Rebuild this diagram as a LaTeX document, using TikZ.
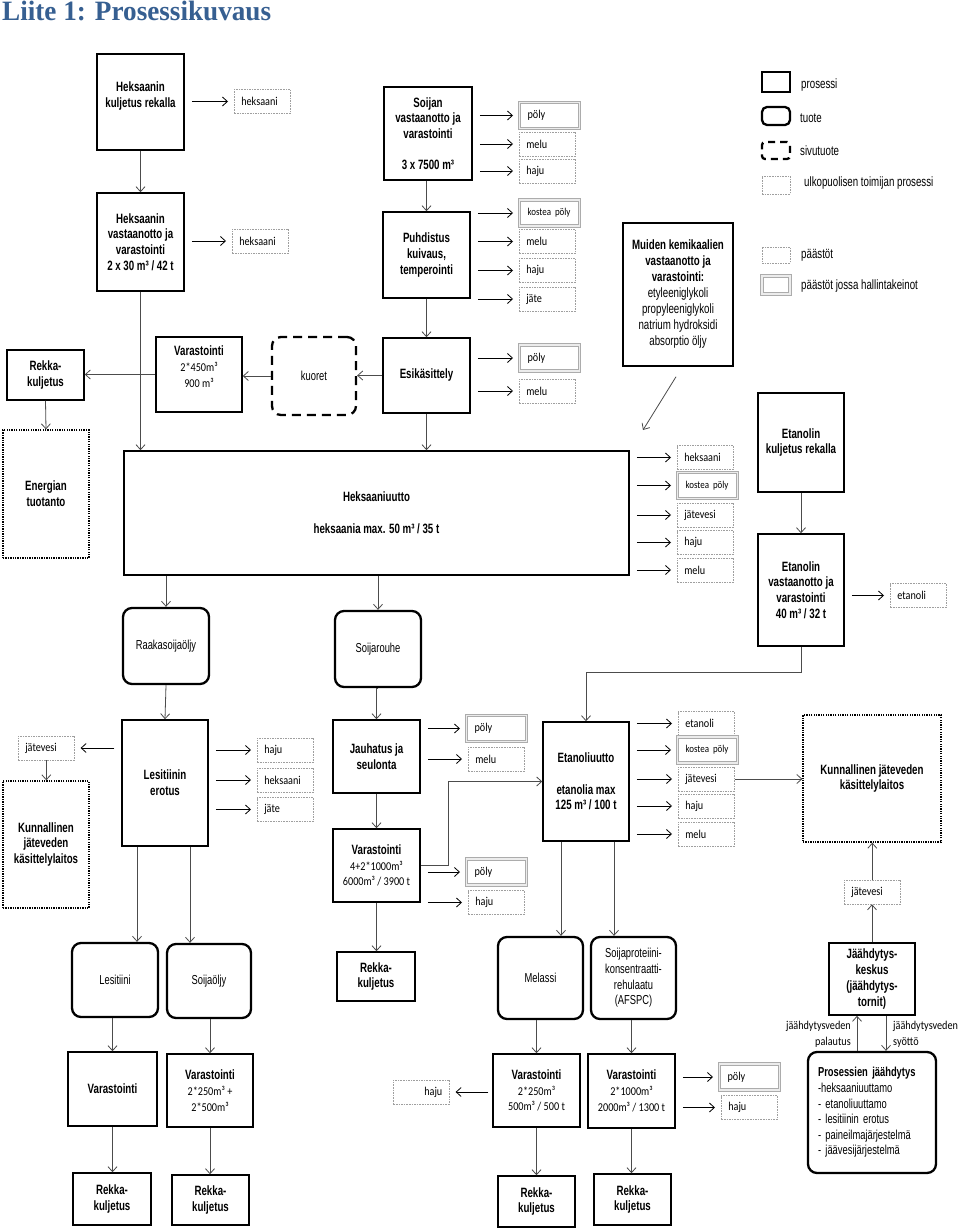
\documentclass[tikz,border=0pt]{standalone}
\usepackage{fontspec}
\setmainfont{Liberation Sans}
\newfontfamily\narf[FakeStretch=0.72]{Liberation Sans}
\newfontfamily\calf[FakeStretch=0.85]{Carlito}
\newfontfamily\titf[FakeStretch=0.97]{Liberation Serif}
\usetikzlibrary{arrows.meta,calc}
\definecolor{titleblue}{RGB}{54,95,145}
\definecolor{lnk}{gray}{0.3}
\newcommand\lblfont{\calf\fontsize{12}{13}\selectfont}
\newcommand\stf{\calf\mdseries\fontsize{12}{15.7}\selectfont}
\newcommand\kp{{\calf\fontsize{10.5}{11}\selectfont kostea pöly}}
\tikzset{
  bx/.style n args={4}{at={({(#1+#3)/2},{(#2+#4)/2})},minimum width={#3-#1},minimum height={#4-#2}},
  proc/.style={draw,line width=1.5pt,align=center,inner sep=1pt,font=\narf\bfseries\fontsize{13.5}{15.7}\selectfont},
  prod/.style={draw,line width=2.3pt,rounded corners=9pt,align=center,inner sep=1pt,font=\narf\fontsize{13}{15.7}\selectfont},
  byprod/.style={draw,line width=2.3pt,dash pattern=on 9pt off 6pt,rounded corners=9pt,align=center,inner sep=1pt,font=\narf\fontsize{13}{15.7}\selectfont},
  ext/.style={draw,line width=1.3pt,dash pattern=on 1.3pt off 1.1pt,align=center,inner sep=1pt,font=\narf\bfseries\fontsize{13.5}{15.7}\selectfont},
  eline/.style={draw=gray!75,line width=0.6pt,dash pattern=on 1.6pt off 1pt},
  cline/.style={draw=gray!65,line width=1.1pt,double=gray!15,double distance=1.1pt},
  emis/.style={eline,anchor=west,text width=42pt,inner xsep=7pt,inner ysep=0pt,minimum height=24pt,align=left,font=\lblfont},
  emisc/.style={cline,anchor=west,text width=44pt,inner xsep=8pt,inner ysep=0pt,minimum height=26pt,align=left,font=\lblfont},
  cnx/.style={draw=lnk,line width=0.8pt,-{Straight Barb[length=5pt,width=9pt]}},
  ea/.style={draw=black,line width=0.8pt,-{Straight Barb[length=5pt,width=9pt]},shorten <=7pt,shorten >=6pt},
  lgt/.style={anchor=west,inner sep=0pt,font=\narf\fontsize{13.5}{15.7}\selectfont},
}
\begin{document}
\begin{tikzpicture}[x=1pt,y=-1pt]
\fill[white] (0,0) rectangle (960,1230);
\useasboundingbox (0,0) rectangle (960,1230);
\node[anchor=base west,inner sep=0pt,text=titleblue,font=\titf\bfseries\fontsize{28}{32}\selectfont] (title) at (2,21) {Liite 1: Prosessikuvaus};
% ---------- processes ----------
\node[proc,bx={97}{54}{184}{150},text depth=15pt] (hk) {Heksaanin\\kuljetus rekalla};
\node[proc,bx={97}{193}{184}{291}] (hv) {Heksaanin\\vastaanotto ja\\varastointi\\2 x 30 m³ / 42 t};
\node[proc,bx={384}{87}{472}{180}] (sv) {Soijan\\vastaanotto ja\\varastointi\\[15pt]3 x 7500 m³};
\node[proc,bx={383}{212}{470}{298}] (pu) {Puhdistus\\kuivaus,\\temperointi};
\node[proc,bx={383}{338}{470}{413}] (es) {Esikäsittely};
\node[byprod,bx={272}{337}{356}{415}] (ku) {kuoret};
\node[proc,bx={156}{337}{242}{412},text depth=16pt] (v450) {Varastointi\\{\stf 2*450m³}\\{\stf 900 m³}};
\node[proc,bx={7}{350}{84}{400}] (rk1) {Rekka-\\kuljetus};
\node[ext,bx={3}{430}{89}{558}] (et) {Energian\\tuotanto};
\node[proc,bx={124}{451}{629}{575}] (hu) {Heksaaniuutto\\[16pt]heksaania max. 50 m³ / 35 t};
\node[proc,bx={623}{223}{733}{366},font=\narf\bfseries\fontsize{13.5}{16}\selectfont] (mk) {Muiden kemikaalien\\vastaanotto ja\\varastointi:\\{\mdseries etyleeniglykoli}\\{\mdseries propyleeniglykoli}\\{\mdseries natrium hydroksidi}\\{\mdseries absorptio öljy}};
\node[proc,bx={758}{393}{844}{492}] (ek) {Etanolin\\kuljetus rekalla};
\node[proc,bx={758}{534}{844}{646}] (ev) {Etanolin\\vastaanotto ja\\varastointi\\40 m³ / 32 t};
\node[prod,bx={123}{608}{209}{684}] (rs) {Raakasoijaöljy};
\node[prod,bx={335}{611}{421}{687}] (sr) {Soijarouhe};
\node[proc,bx={122}{720}{208}{846}] (le) {Lesitiinin\\erotus};
\node[ext,bx={3}{781}{89}{908}] (kl) {Kunnallinen\\jäteveden\\käsittelylaitos};
\node[proc,bx={333}{720}{420}{793}] (ja) {Jauhatus ja\\seulonta};
\node[proc,bx={333}{829}{420}{902}] (v42) {Varastointi\\{\stf 4+2*1000m³}\\{\stf 6000m³ / 3900 t}};
\node[proc,bx={543}{722}{629}{841}] (eu) {Etanoliuutto\\[16pt]etanolia max\\125 m³ / 100 t};
\node[ext,bx={803}{715}{941}{842}] (kr) {Kunnallinen jäteveden\\käsittelylaitos};
\node[proc,bx={337}{952}{415}{1001}] (rk2) {Rekka-\\kuljetus};
\node[prod,bx={72}{943}{158}{1017}] (lt) {Lesitiini};
\node[prod,bx={167}{944}{251}{1018}] (so) {Soijaöljy};
\node[prod,bx={498}{937}{583}{1019}] (me) {Melassi};
\node[prod,bx={591}{937}{676}{1019}] (sp) {Soijaproteiini-\\konsentraatti-\\rehulaatu\\(AFSPC)};
\node[proc,bx={829}{943}{915}{1015}] (jk) {Jäähdytys-\\keskus\\(jäähdytys-\\tornit)};
\node[prod,bx={808}{1052}{936}{1173},align=left,text width=108pt,inner xsep=10pt,font=\narf\fontsize{13}{15.6}\selectfont] (pj) {{\bfseries Prosessien jäähdytys}\\-heksaaniuuttamo\\- etanoliuuttamo\\- lesitiinin erotus\\- paineilmajärjestelmä\\- jäävesijärjestelmä};
\node[proc,bx={68}{1052}{157}{1126}] (va1) {Varastointi};
\node[proc,bx={167}{1054}{253}{1127}] (va2) {Varastointi\\{\stf 2*250m³ +}\\{\stf 2*500m³}};
\node[proc,bx={493}{1054}{580}{1127}] (vm) {Varastointi\\{\stf 2*250m³}\\{\stf 500m³ / 500 t}};
\node[proc,bx={588}{1054}{675}{1128}] (vs) {Varastointi\\{\stf 2*1000m³}\\{\stf 2000m³ / 1300 t}};
\node[proc,bx={73}{1173}{151}{1225}] (rk3) {Rekka-\\kuljetus};
\node[proc,bx={172}{1175}{249}{1225}] (rk4) {Rekka-\\kuljetus};
\node[proc,bx={498}{1176}{575}{1227}] (rk5) {Rekka-\\kuljetus};
\node[proc,bx={594}{1174}{671}{1225}] (rk6) {Rekka-\\kuljetus};
% ---------- emissions ----------
\node[emis] (a1) at (234,101.5) {heksaani};
\node[emis] (b1) at (232,241) {heksaani};
\node[emisc] (c1) at (519,115.5) {pöly};
\node[emis] (c2) at (519,144) {melu};
\node[emis] (c3) at (519,171) {haju};
\node[emisc] (d1) at (519,213) {\kp};
\node[emis] (d2) at (519,241.5) {melu};
\node[emis] (d3) at (519,270.5) {haju};
\node[emis] (d4) at (519,299) {jäte};
\node[emisc] (e1) at (519,358) {pöly};
\node[emis] (e2) at (519,391) {melu};
\node[emis] (f1) at (677,457.5) {heksaani};
\node[emisc] (f2) at (677,485.5) {\kp};
\node[emis] (f3) at (677,515) {jätevesi};
\node[emis] (f4) at (677,542.5) {haju};
\node[emis] (f5) at (677,570) {melu};
\node[emis] (g1) at (890,595.5) {etanoli};
\node[emis] (h0) at (18,748) {jätevesi};
\node[emis] (h1) at (257,750) {haju};
\node[emis] (h2) at (257,780) {heksaani};
\node[emis] (h3) at (257,809.5) {jäte};
\node[emisc] (i1) at (466,728.5) {pöly};
\node[emis] (i2) at (468,759) {melu};
\node[emisc] (j1) at (466,872) {pöly};
\node[emis] (j2) at (468,902.5) {haju};
\node[emis] (k1) at (678,723.5) {etanoli};
\node[emisc] (k2) at (677,750) {\kp};
\node[emis] (k3) at (678,779) {jätevesi};
\node[emis] (k4) at (678,806) {haju};
\node[emis] (k5) at (678,834) {melu};
\node[emis] (m1) at (844,892) {jätevesi};
\node[emis,align=right] (n1) at (393,1092) {haju};
\node[emisc] (l1) at (719,1077) {pöly};
\node[emis] (l2) at (721,1107.5) {haju};
% ---------- legend ----------
\node[draw,line width=1.3pt,bx={762}{72}{790}{92}] (lg1) {};
\node[draw,line width=2.3pt,rounded corners=5pt,bx={762}{107}{790}{125}] (lg2) {};
\node[draw,line width=2.3pt,dash pattern=on 7pt off 5pt,rounded corners=3pt,bx={762}{142}{790}{159}] (lg3) {};
\node[eline,bx={762}{176}{790}{194}] (lg4) {};
\node[eline,bx={762}{247}{790}{263}] (lg5) {};
\node[cline,bx={762}{276}{790}{294}] (lg6) {};
\node[lgt] (lt1) at (801,85) {prosessi};
\node[lgt] (lt2) at (800,118) {tuote};
\node[lgt] (lt3) at (800,151) {sivutuote};
\node[lgt] (lt4) at (804,183) {ulkopuolisen toimijan prosessi};
\node[lgt] (lt5) at (801,255) {päästöt};
\node[lgt] (lt6) at (801,286) {päästöt jossa hallintakeinot};
% ---------- cooling labels ----------
\node[anchor=east,align=right,inner sep=0pt,font=\calf\fontsize{12}{16}\selectfont] (lbp) at (851,1034) {jäähdytysveden\\palautus};
\node[anchor=west,align=left,inner sep=0pt,font=\calf\fontsize{12}{16}\selectfont] (lbs) at (893,1034) {jäähdytysveden\\syöttö};
% ---------- connectors ----------
\draw[cnx] (hk.south) -- (hv.north);
\draw[cnx] (hv.south) -- (hv.south |- hu.north);
\draw[cnx] (pu.north |- sv.south) -- (pu.north);
\draw[cnx] (pu.south) -- (es.north);
\draw[cnx] (es.south) -- (es.south |- hu.north);
\draw[cnx] (es.west) -- (es.west -| ku.east);
\draw[cnx] (ku.west) -- (ku.west -| v450.east);
\draw[cnx] (v450.west) -- (v450.west -| rk1.east);
\draw[cnx] (rk1.south) -- (et.north);
\coordinate (mkend) at (643,430);
\draw[cnx] ($(mk.south)+(-2,10)$) -- (mkend);
\draw[cnx] (ek.south) -- (ev.north);
\draw[cnx] (ev.south) -- ++(0,26) -| (eu.north);
\draw[cnx] (rs.north |- hu.south) -- (rs.north);
\draw[cnx] (sr.north |- hu.south) -- (sr.north);
\draw[cnx] (rs.south) -- (le.north);
\draw[cnx] (sr.south) -- (sr.south -| ja.north) -- (ja.north);
\draw[cnx] (ja.south) -- (v42.north);
\draw[cnx] (v42.south) -- (v42.south |- rk2.north);
\draw[cnx] (v42.east) -- ++(28,0) |- (eu.west);
\draw[cnx] ([xshift=-28pt]le.south) -- ([xshift=-28pt]le.south |- lt.north);
\draw[cnx] ([xshift=25pt]le.south) -- ([xshift=25pt]le.south |- so.north);
\draw[cnx] (va1.north |- lt.south) -- (va1.north);
\draw[cnx] (va2.north |- so.south) -- (va2.north);
\draw[cnx] (va1.south) -- (va1.south |- rk3.north);
\draw[cnx] (va2.south) -- (va2.south |- rk4.north);
\draw[cnx] ([xshift=-25pt]eu.south) -- ([xshift=-25pt]eu.south |- me.north);
\draw[cnx] ([xshift=28pt]eu.south) -- ([xshift=28pt]eu.south |- sp.north);
\draw[cnx] (vm.north |- me.south) -- (vm.north);
\draw[cnx] (vs.north |- sp.south) -- (vs.north);
\draw[cnx] (vm.south) -- (vm.south |- rk5.north);
\draw[cnx] (vs.south) -- (vs.south |- rk6.north);
\draw[cnx] (h0.south) -- (h0.south |- kl.north);
\draw[cnx] (k3.east) -- (k3.east -| kr.west);
\draw[cnx] (jk.north) -- (jk.north |- m1.south);
\draw[cnx] (m1.north) -- (m1.north |- kr.south);
\draw[cnx] ([xshift=-15pt]pj.north) -- ([xshift=-15pt]pj.north |- jk.south);
\draw[cnx] ([xshift=14pt]jk.south) -- ([xshift=14pt]jk.south |- pj.north);
% emission arrows
\draw[ea] (hk.east |- a1.west) -- (a1.west);
\draw[ea] (hv.east |- b1.west) -- (b1.west);
\foreach \e in {c1,c2,c3} {\draw[ea] (sv.east |- \e.west) -- (\e.west);}
\foreach \e in {d1,d2,d3,d4} {\draw[ea] (pu.east |- \e.west) -- (\e.west);}
\foreach \e in {e1,e2} {\draw[ea] (es.east |- \e.west) -- (\e.west);}
\foreach \e in {f1,f2,f3,f4,f5} {\draw[ea] (hu.east |- \e.west) -- (\e.west);}
\draw[ea] (ev.east |- g1.west) -- (g1.west);
\foreach \e in {h1,h2,h3} {\draw[ea] (le.east |- \e.west) -- (\e.west);}
\draw[ea] (le.west |- h0.east) -- (h0.east);
\foreach \e in {i1,i2} {\draw[ea] (ja.east |- \e.west) -- (\e.west);}
\foreach \e in {j1,j2} {\draw[ea] (v42.east |- \e.west) -- (\e.west);}
\foreach \e in {k1,k2,k3,k4,k5} {\draw[ea] (eu.east |- \e.west) -- (\e.west);}
\foreach \e in {l1,l2} {\draw[ea] (vs.east |- \e.west) -- (\e.west);}
\draw[ea,shorten <=4pt] (vm.west |- n1.east) -- (n1.east);
\end{tikzpicture}
\end{document}
